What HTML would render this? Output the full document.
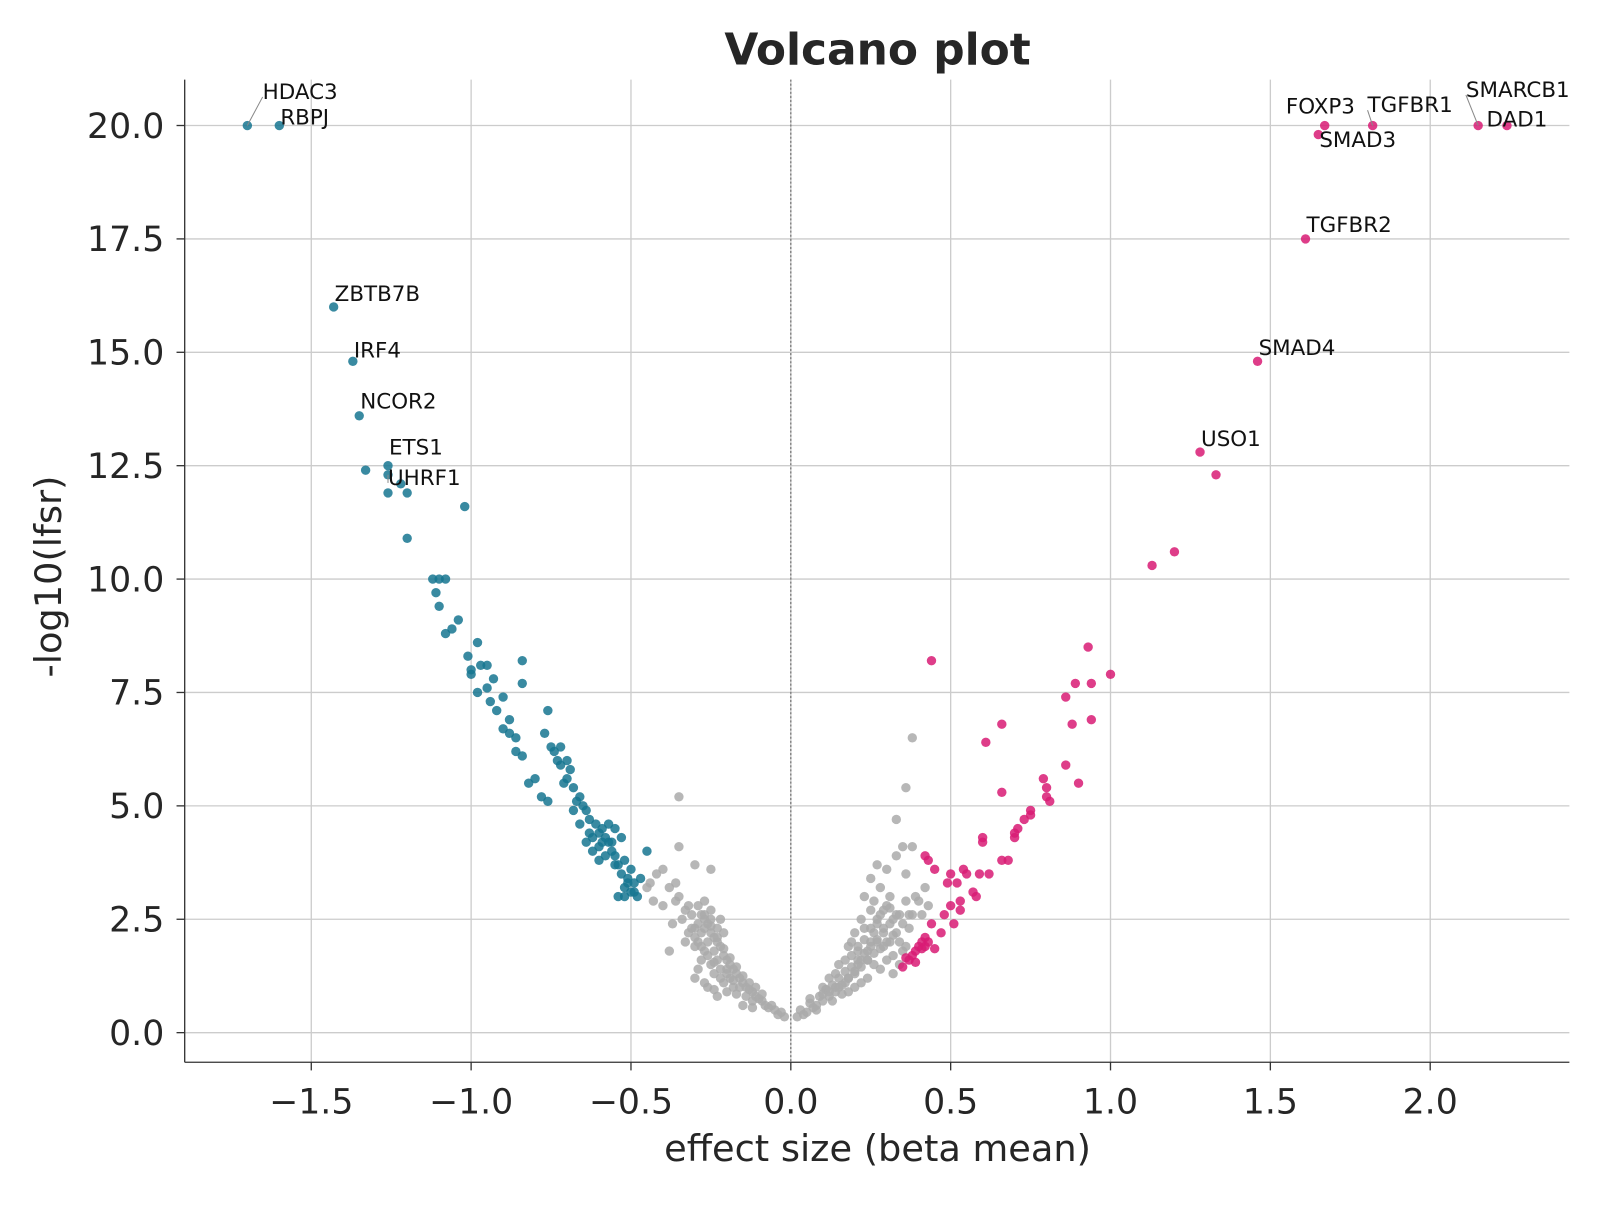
<!DOCTYPE html>
<html><head><meta charset="utf-8"><style>
body{margin:0;background:#fff}
svg text{font-family:"DejaVu Sans","Liberation Sans",sans-serif}
</style></head><body>
<svg id="chart" width="1600" height="1200" viewBox="0 0 1568 1176" xmlns="http://www.w3.org/2000/svg">
<g id="grid"></g>
<g id="pts"></g>
<g id="axes"></g>
<text x="860" y="63" text-anchor="middle" font-size="43" font-weight="bold" fill="#262626">Volcano plot</text>
<text x="860" y="1138" text-anchor="middle" font-size="36" fill="#262626">effect size (beta mean)</text>
<text transform="translate(60,565) rotate(-90)" text-anchor="middle" font-size="36" fill="#262626">-log10(lfsr)</text>
</svg>
<script>
const xTicks=[-1.5,-1.0,-0.5,0.0,0.5,1.0,1.5,2.0];
const yTicks=[0,2.5,5,7.5,10,12.5,15,17.5,20];
const greyX=[-0.02,-0.04,-0.05,-0.07,-0.08,-0.09,-0.1,-0.11,-0.12,-0.13,-0.14,-0.15,-0.16,-0.17,-0.18,-0.19,-0.2,-0.21,-0.22,-0.23,-0.24,-0.25,-0.26,-0.27,-0.28,-0.29,-0.3,-0.22,-0.25,-0.27,-0.2,-0.18,-0.24,-0.26,-0.28,-0.3,-0.32,-0.34,-0.36,-0.38,-0.4,-0.42,-0.44,-0.35,-0.3,-0.25,-0.35,-0.35,-0.38,-0.23,-0.15,-0.12,-0.2,-0.23,-0.28,-0.31,-0.33,-0.25,-0.22,-0.29,-0.3,-0.27,-0.24,-0.21,-0.19,-0.17,-0.26,-0.24,-0.32,-0.4,-0.37,-0.27,-0.36,-0.45,-0.43,
-0.03,-0.06,-0.09,-0.11,-0.13,-0.15,-0.17,-0.19,-0.21,-0.23,-0.25,-0.27,-0.29,-0.31,-0.16,-0.18,-0.2,-0.22,-0.24,-0.26,-0.28,-0.3,-0.21,-0.23,-0.25,-0.27,-0.29,-0.33,-0.14,-0.12,
0.02,0.04,0.05,0.07,0.08,0.1,0.12,0.14,0.15,0.17,0.18,0.2,0.21,0.22,0.24,0.25,0.26,0.27,0.28,0.3,0.31,0.32,0.33,0.34,0.35,0.36,0.37,0.38,0.4,0.42,0.43,0.28,0.3,0.33,0.35,0.36,0.38,0.33,0.36,0.38,0.25,0.27,0.2,0.22,0.18,0.15,0.12,0.1,0.16,0.2,0.24,0.28,0.3,0.32,0.26,0.22,0.18,0.13,0.08,0.06,0.11,0.14,0.17,0.19,0.23,0.25,0.29,0.31,0.34,0.36,0.39,0.41,0.27,0.24,0.21,0.32,0.34,0.29,0.26,0.23,
0.03,0.06,0.09,0.11,0.13,0.15,0.17,0.19,0.21,0.23,0.25,0.27,0.29,0.31,0.33,0.16,0.18,0.2,0.22,0.24,0.26,0.28,0.3,0.32,0.35,0.37,0.19,0.21,0.23,0.25,0.27,0.29,0.31,0.14,0.12,0.1];
const greyY=[0.35,0.4,0.5,0.55,0.6,0.7,0.75,0.8,0.9,0.95,1.0,1.1,1.2,1.3,1.4,1.5,1.6,1.7,1.9,2.0,2.1,2.2,2.4,2.5,2.6,2.8,2.3,1.2,1.5,1.8,0.9,1.0,1.3,1.0,1.6,1.9,2.2,2.5,2.9,3.2,3.6,3.5,3.3,3.0,3.7,3.6,5.2,4.1,1.8,0.8,0.6,0.55,1.4,1.6,2.2,2.6,2.0,2.7,2.5,1.4,1.2,1.1,0.95,1.1,1.2,0.85,2.0,1.8,2.8,2.8,2.4,2.9,3.3,3.2,2.9,
0.45,0.6,0.85,1.0,1.1,1.25,1.45,1.65,1.85,2.1,2.35,2.6,2.4,2.3,1.0,1.15,1.3,1.4,1.55,1.7,1.9,2.1,2.2,2.3,2.5,2.3,2.0,2.7,0.8,0.7,
0.35,0.4,0.45,0.55,0.6,0.7,0.8,0.9,1.0,1.1,1.2,1.3,1.5,1.6,1.8,2.0,2.2,2.4,2.6,2.8,3.0,2.5,2.2,2.0,1.8,1.9,2.3,2.6,2.9,3.2,2.8,3.2,3.6,3.9,4.1,3.5,4.1,4.7,5.4,6.5,3.4,3.7,2.2,2.5,1.9,1.5,1.2,1.0,0.85,1.0,1.2,1.4,1.6,1.3,1.5,1.1,0.9,0.7,0.5,0.75,0.95,1.3,1.6,2.0,2.3,2.7,2.3,2.0,2.6,2.9,3.0,2.6,2.0,1.6,1.8,1.7,1.5,1.9,2.9,3.0,
0.5,0.65,0.8,0.95,1.05,1.2,1.35,1.45,1.6,1.75,1.9,2.05,2.2,2.4,2.6,1.05,1.2,1.35,1.45,1.6,1.75,1.85,2.0,2.15,2.4,2.6,1.7,1.9,2.05,2.3,2.5,2.7,2.75,1.0,0.9,0.85];
const downX=[-0.48,-0.5,-0.49,-0.51,-0.52,-0.53,-0.5,-0.54,-0.55,-0.56,-0.57,-0.58,-0.59,-0.6,-0.61,-0.62,-0.6,-0.58,-0.56,-0.57,-0.55,-0.53,-0.52,-0.51,-0.54,-0.47,-0.45,-0.63,-0.64,-0.65,-0.66,-0.68,-0.7,-0.72,-0.73,-0.75,-0.77,-0.76,-0.72,-0.7,-0.68,-0.66,-0.64,-0.62,-0.6,-0.78,-0.76,-0.8,-0.82,-0.84,-0.86,-0.88,-0.9,-0.92,-0.94,-0.95,-0.98,-1.0,-1.01,-1.0,-0.97,-0.95,-0.93,-0.9,-0.88,-0.84,-0.84,-0.86,-0.98,-1.04,-1.06,-1.08,-1.1,-1.11,-1.12,-1.1,-1.08,-1.02,-1.2,-1.2,-1.22,-1.26,-1.26,-1.33,-1.26,-1.35,-1.37,-1.43,-1.6,-1.7,-0.67,-0.69,-0.71,-0.74,-0.63,-0.59,-0.55,-0.52,-0.49];
const downY=[3.0,3.1,3.3,3.4,3.2,3.5,3.6,3.7,3.9,4.0,4.2,4.3,4.5,4.4,4.6,4.3,4.1,3.9,4.2,4.6,4.5,4.3,3.8,3.3,3.0,3.4,4.0,4.7,4.9,5.0,5.2,5.4,5.6,5.9,6.0,6.3,6.6,7.1,6.3,6.0,4.9,4.6,4.2,4.0,3.8,5.2,5.1,5.6,5.5,6.1,6.2,6.6,6.7,7.1,7.3,7.6,7.5,7.9,8.3,8.0,8.1,8.1,7.8,7.4,6.9,8.2,7.7,6.5,8.6,9.1,8.9,8.8,9.4,9.7,10.0,10.0,10.0,11.6,10.9,11.9,12.1,12.3,11.9,12.4,12.5,13.6,14.8,16.0,20.0,20.0,5.1,5.8,5.5,6.2,4.4,4.2,3.7,3.0,3.1];
const upX=[0.35,0.37,0.38,0.39,0.4,0.41,0.42,0.43,0.41,0.36,0.39,0.42,0.44,0.42,0.43,0.45,0.48,0.5,0.49,0.5,0.52,0.53,0.54,0.55,0.57,0.58,0.59,0.6,0.6,0.62,0.61,0.66,0.66,0.66,0.68,0.7,0.7,0.71,0.73,0.75,0.75,0.79,0.8,0.8,0.81,0.86,0.86,0.88,0.89,0.9,0.93,0.94,0.94,1.0,0.44,1.13,1.2,1.28,1.33,1.46,1.61,1.65,1.67,1.82,2.15,2.24,0.51,0.53,0.45,0.47];
const upY=[1.45,1.6,1.7,1.8,1.9,2.0,2.1,2.0,1.85,1.65,1.55,1.9,2.4,3.9,3.8,3.6,2.6,2.8,3.3,3.5,3.3,2.9,3.6,3.5,3.1,3.0,3.5,4.2,4.3,3.5,6.4,5.3,6.8,3.8,3.8,4.4,4.3,4.5,4.7,4.9,4.8,5.6,5.4,5.2,5.1,5.9,7.4,6.8,7.7,5.5,8.5,7.7,6.9,7.9,8.2,10.3,10.6,12.8,12.3,14.8,17.5,19.8,20,20,20,20.0,2.4,2.7,1.85,2.2];
const labels=["HDAC3","RBPJ","ZBTB7B","IRF4","NCOR2","ETS1","UHRF1","FOXP3","TGFBR1","SMAD3","SMARCB1","DAD1","TGFBR2","SMAD4","USO1"];
const labelX=[-1.7,-1.6,-1.43,-1.37,-1.35,-1.26,-1.26,1.67,1.82,1.65,2.15,2.24,1.61,1.46,1.28];
const labelY=[20,20,16.0,14.8,13.6,12.5,12.3,20,20,19.8,20,20,17.5,14.8,12.8];
const labDx=[15,1,1,1,1,1,0,-38,-5,1,-12,-20,1,1,1];
const labDy=[-26,-1,-6,-4,-7,-11,10,-12,-13,12,-28,1,-7,-6,-6];
const leaders=[true,false,false,false,false,false,true,false,true,false,true,false,false,false,false];

const NS="http://www.w3.org/2000/svg";
const L=181,R=1538,T=78,B=1041;
const sx=v=>775+v*313.3;
const sy=v=>1012-v*44.45;
function mk(tag,attrs,parent){const e=document.createElementNS(NS,tag);for(const k in attrs)e.setAttribute(k,attrs[k]);parent.appendChild(e);return e;}
const grid=document.getElementById('grid'),axes=document.getElementById('axes'),pts=document.getElementById('pts');
xTicks.forEach(t=>{
 const g=mk('line',{x1:sx(t),x2:sx(t),y1:T,y2:B,stroke:'#cccccc','stroke-width':1.3},grid);
 
 
 const tk=mk('line',{x1:sx(t),x2:sx(t),y1:B,y2:B+8,stroke:'#333','stroke-width':1.3},axes);
 
 
 const tx=mk('text',{x:sx(t),y:B+50,'text-anchor':'middle','font-size':34,fill:'#262626'},axes);
 tx.textContent=(t<0?'\u2212':'')+Math.abs(t).toFixed(1);
 
 
});
yTicks.forEach(t=>{
 const g=mk('line',{x1:L,x2:R,y1:sy(t),y2:sy(t),stroke:'#cccccc','stroke-width':1.3},grid);
 
 
 const tk=mk('line',{x1:L-8,x2:L,y1:sy(t),y2:sy(t),stroke:'#333','stroke-width':1.3},axes);
 
 
 const tx=mk('text',{x:L-20,y:sy(t)+12,'text-anchor':'end','font-size':34,fill:'#262626'},axes);
 tx.textContent=t.toFixed(1);
 
 
});
const zl=mk('line',{x1:sx(0),x2:sx(0),y1:T,y2:B,stroke:'#777','stroke-width':1.3,'stroke-dasharray':'2,2'},grid);


const sp1=mk('line',{x1:L,x2:L,y1:T,y2:B,stroke:'#333','stroke-width':1.3},axes);


const sp2=mk('line',{x1:L,x2:R,y1:B,y2:B,stroke:'#333','stroke-width':1.3},axes);


function draw(xs,ys,col,name){xs.forEach((x,i)=>{
 const c=mk('circle',{cx:sx(x),cy:sy(ys[i]),r:4.6,fill:col,'fill-opacity':0.85},pts);
 
 
});}
draw(greyX,greyY,'#aaaaaa','point-ns');
draw(downX,downY,'#167690','point-down');
draw(upX,upY,'#d81b74','point-up');
labels.forEach((s,i)=>{
 const px=sx(labelX[i]),py=sy(labelY[i]);
 const tx=px+labDx[i],ty=py+labDy[i];
 if(leaders[i]){
  const ln=mk('line',{x1:px,y1:py,x2:tx,y2:ty-2,stroke:'#888','stroke-width':1},pts);
  
  
 }
 const t=mk('text',{x:tx,y:ty,'font-size':21,fill:'#111'},pts);
 t.textContent=s;
 
 
});
</script>
</body></html>
